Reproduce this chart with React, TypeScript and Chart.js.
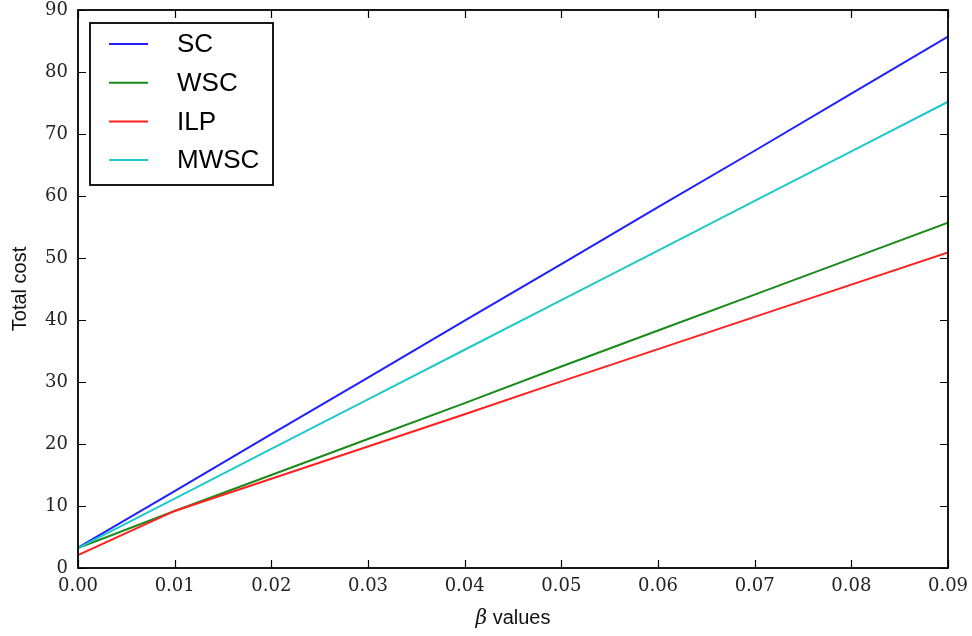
import React, { useEffect, useRef } from "react";
import { Chart, registerables } from "chart.js";

Chart.register(...registerables);

const betaValues = [0, 0.01, 0.02, 0.03, 0.04, 0.05, 0.06, 0.07, 0.08, 0.09];
const scCost = [3.3, 12.4, 21.6, 30.7, 39.9, 49.0, 58.2, 67.3, 76.5, 85.7];
const wscCost = [3.2, 9.2, 15.0, 20.8, 26.6, 32.5, 38.3, 44.1, 49.9, 55.7];
const ilpCost = [2.1, 9.2, 14.4, 19.6, 24.8, 30.1, 35.3, 40.5, 45.7, 50.9];
const mwscCost = [3.2, 11.2, 19.2, 27.2, 35.2, 43.2, 51.2, 59.2, 67.2, 75.2];
const seriesLabels = ["SC", "WSC", "ILP", "MWSC"];
const seriesColors = ["#2020ff", "#1a8a1a", "#ff2020", "#20c8c8"];

const SERIF = "'DejaVu Serif', 'Liberation Serif', serif";
const SANS = "'Liberation Sans', Arial, sans-serif";

const framePlugin = {
  id: "mplFrame",
  afterDraw(chart: any) {
    const ctx = chart.ctx;
    const { left, right, top, bottom } = chart.chartArea;
    const xs = chart.scales.x;
    const ys = chart.scales.y;
    ctx.save();
    // inward ticks
    ctx.strokeStyle = "#000";
    ctx.lineWidth = 1.2;
    const tl = 8;
    xs.ticks.forEach((t: any) => {
      const px = Math.round(xs.getPixelForValue(t.value)) + 0.5;
      ctx.beginPath();
      ctx.moveTo(px, bottom);
      ctx.lineTo(px, bottom - tl);
      ctx.moveTo(px, top);
      ctx.lineTo(px, top + tl);
      ctx.stroke();
    });
    ys.ticks.forEach((t: any) => {
      const py = Math.round(ys.getPixelForValue(t.value)) + 0.5;
      ctx.beginPath();
      ctx.moveTo(left, py);
      ctx.lineTo(left + tl, py);
      ctx.moveTo(right, py);
      ctx.lineTo(right - tl, py);
      ctx.stroke();
    });
    // frame
    ctx.lineWidth = 1.8;
    ctx.strokeRect(left, top, right - left, bottom - top);

    // legend
    const lx = 90, ly = 23, lw = 183, lh = 162;
    ctx.fillStyle = "#fff";
    ctx.fillRect(lx, ly, lw, lh);
    ctx.lineWidth = 1.8;
    ctx.strokeStyle = "#000";
    ctx.strokeRect(lx, ly, lw, lh);
    ctx.font = `26px ${SANS}`;
    ctx.textBaseline = "middle";
    ctx.textAlign = "left";
    chart.data.datasets.forEach((ds: any, i: number) => {
      const ry = 44 + i * 38.7;
      ctx.strokeStyle = ds.borderColor;
      ctx.lineWidth = 2;
      ctx.beginPath();
      ctx.moveTo(109, ry);
      ctx.lineTo(148, ry);
      ctx.stroke();
      ctx.fillStyle = "#000";
      ctx.fillText(ds.label, 177, ry + 1);
    });

    // x title: "β values"
    const cx = (left + right) / 2;
    ctx.fillStyle = "#111";
    ctx.textBaseline = "middle";
    ctx.font = `italic 20px ${SERIF}`;
    const bw = ctx.measureText("β").width;
    ctx.font = `20px ${SANS}`;
    const vw = ctx.measureText(" values").width;
    const sx = cx - (bw + vw) / 2;
    ctx.font = `italic 20px ${SERIF}`;
    ctx.fillText("β", sx, 619);
    ctx.font = `20px ${SANS}`;
    ctx.fillText(" values", sx + bw, 618);

    // y title
    ctx.translate(20, (top + bottom) / 2);
    ctx.rotate(-Math.PI / 2);
    ctx.textAlign = "center";
    ctx.fillText("Total cost", 0, 0);
    ctx.restore();
  },
};

export default function App() {
  const ref = useRef<HTMLCanvasElement | null>(null);
  useEffect(() => {
    if (!ref.current) return;
    const series = [scCost, wscCost, ilpCost, mwscCost];
    const chart = new Chart(ref.current, {
      type: "line",
      data: {
        datasets: series.map((vals, i) => ({
          label: seriesLabels[i],
          data: betaValues.map((b, j) => ({ x: b, y: vals[j] })),
          borderColor: seriesColors[i],
          backgroundColor: seriesColors[i],
          borderWidth: 2,
          pointRadius: 0,
          tension: 0,
          fill: false,
          order: series.length - i,
        })),
      },
      options: {
        responsive: false,
        animation: false,
        devicePixelRatio: 1,
        layout: { padding: { left: 0, top: 10, right: 24, bottom: 0 } },
        plugins: { legend: { display: false }, tooltip: { enabled: false } },
        scales: {
          x: {
            type: "linear",
            min: 0,
            max: 0.09,
            grid: { display: false, drawTicks: false },
            border: { display: false },
            ticks: {
              stepSize: 0.01,
              padding: 8,
              color: "#222",
              maxRotation: 0,
              font: { family: SERIF, size: 18 },
              callback: (v: any) => Number(v).toFixed(2),
            },
            afterFit: (s: any) => {
              s.height = 68;
              s.paddingLeft = 0;
              s.paddingRight = 0;
            },
          },
          y: {
            type: "linear",
            min: 0,
            max: 90,
            grid: { display: false, drawTicks: false },
            border: { display: false },
            ticks: {
              stepSize: 10,
              padding: 10,
              color: "#222",
              font: { family: SERIF, size: 18 },
              callback: (v: any) => String(Math.round(Number(v))),
            },
            afterFit: (s: any) => {
              s.width = 78;
              s.paddingTop = 0;
              s.paddingBottom = 0;
            },
          },
        },
      },
      plugins: [framePlugin],
    });
    return () => chart.destroy();
  }, []);
  return (
    <div style={{ position: "fixed", left: 0, top: 0, width: 972, height: 636, background: "#fff" }}>
      <canvas ref={ref} width={972} height={636} style={{ width: 972, height: 636 }} />
    </div>
  );
}
